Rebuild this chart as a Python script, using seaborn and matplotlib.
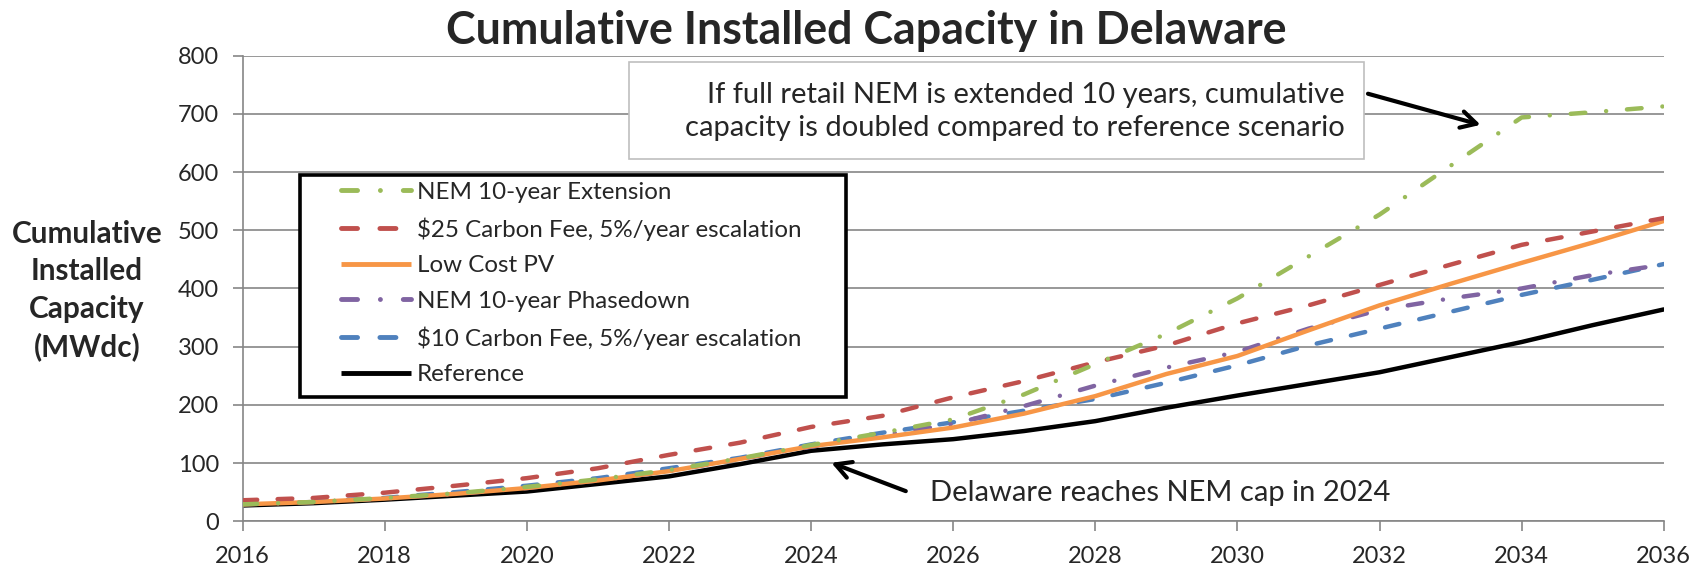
import numpy as np
import pandas as pd
import seaborn as sns
import matplotlib.pyplot as plt
from matplotlib.lines import Line2D
from matplotlib.patches import Rectangle

years = list(range(2016, 2037))

nem_ext = [29, 33, 40, 48, 59, 72, 88, 108, 131, 152, 175, 218, 270, 322, 383, 455, 527, 611, 694, 703, 713]
carbon_25 = [36, 40, 49, 61, 74, 91, 114, 135, 162, 181, 213, 241, 273, 302, 340, 371, 406, 441, 475, 498, 521]
low_cost_pv = [29, 33, 39, 47, 57, 70, 86, 107, 129, 144, 161, 185, 215, 253, 284, 328, 371, 408, 444, 479, 516]
nem_phase = [29, 33, 39, 47, 57, 70, 86, 107, 128, 148, 167, 198, 233, 264, 291, 331, 363, 383, 400, 423, 441]
carbon_10 = [30, 34, 40, 50, 61, 74, 91, 109, 132, 152, 170, 190, 210, 238, 268, 302, 331, 360, 389, 415, 442]
reference = [27, 31, 37, 44, 51, 64, 77, 98, 121, 132, 141, 155, 172, 195, 216, 236, 256, 282, 308, 337, 364]

labels = ["NEM 10-year Extension",
          "$25 Carbon Fee, 5%/year escalation",
          "Low Cost PV",
          "NEM 10-year Phasedown",
          "$10 Carbon Fee, 5%/year escalation",
          "Reference"]

df = pd.DataFrame({"year": years,
                   labels[0]: nem_ext,
                   labels[1]: carbon_25,
                   labels[2]: low_cost_pv,
                   labels[3]: nem_phase,
                   labels[4]: carbon_10,
                   labels[5]: reference})
long = df.melt(id_vars="year", var_name="scenario", value_name="mw")

colors = {labels[0]: "#9BBB59", labels[1]: "#C0504D", labels[2]: "#F79646",
          labels[3]: "#8064A2", labels[4]: "#4F81BD", labels[5]: "#000000"}
dashdot = (0, (3.3, 4.7, 0.01, 4.7))
dashed = (0, (3.3, 4.6))
styles = {labels[0]: dashdot, labels[1]: dashed, labels[2]: "-",
          labels[3]: dashdot, labels[4]: dashed, labels[5]: "-"}

sns.set_style("white")
plt.rcParams["font.family"] = ["Lato", "DejaVu Sans"]

fig = plt.figure(figsize=(16.96, 5.69), dpi=100)
ax = fig.add_axes([0.143, 0.084, 0.838, 0.818])

handles = {}
for i, lab in enumerate(labels[::-1]):
    sub = long[long.scenario == lab]
    sns.lineplot(data=sub, x="year", y="mw", ax=ax, color=colors[lab], lw=3.2,
                 legend=False, zorder=2 + i)
    ln = ax.lines[-1]
    ln.set_linestyle(styles[lab])
    ln.set_dash_capstyle("round")
    ln.set_solid_capstyle("round")
    handles[lab] = Line2D([0], [0], color=colors[lab], lw=3.5, linestyle=styles[lab],
                          dash_capstyle="round", solid_capstyle="butt")

ax.set_xlim(2016, 2036)
ax.set_ylim(0, 800)
ax.set_xticks(range(2016, 2037, 2))
ax.set_yticks(range(0, 801, 100))
ax.set_xlabel("")
ax.set_ylabel("")
ax.grid(axis="y", color="#868686", lw=1.2)
ax.set_axisbelow(True)
for s in ["top", "right"]:
    ax.spines[s].set_visible(False)
for s in ["left", "bottom"]:
    ax.spines[s].set_color("#868686")
    ax.spines[s].set_linewidth(1.2)
ax.tick_params(axis="both", labelsize=17, color="#868686", width=1.2, length=7,
               direction="out", bottom=True, left=True)
ax.tick_params(axis="x", pad=11)
ax.tick_params(axis="y", pad=10)

# legend: fixed-size Excel style frame, entries placed inside it
ax.add_patch(Rectangle((0.0401, 0.2667), 0.3845, 0.4774, transform=ax.transAxes,
                       fc="white", ec="black", lw=2.6, zorder=19, clip_on=False))
leg = ax.legend([handles[l] for l in labels], labels, loc="upper left",
                bbox_to_anchor=(0.069, 0.729), fontsize=17.4, frameon=False,
                handlelength=2.93, handletextpad=0.23, labelspacing=0.6,
                borderpad=0, borderaxespad=0)
leg.set_zorder(20)

ax.add_patch(Rectangle((0.2718, 0.7785), 0.5176, 0.2086, transform=ax.transAxes,
                       fc="white", ec="#BFBFBF", lw=1.2, zorder=19, clip_on=False))
ax.text(0.7754, 0.8806, "If full retail NEM is extended 10 years, cumulative\n"
        "capacity is doubled compared to reference scenario",
        transform=ax.transAxes, ha="right", va="center", multialignment="right",
        fontsize=21, linespacing=1.35, zorder=20)
arrow = "->,head_length=1.1,head_width=0.6"
ax.annotate("", xy=(2033.46, 680), xytext=(2031.8, 736),
            arrowprops=dict(arrowstyle=arrow, color="black", lw=3), zorder=21)

ax.text(2025.68, 48, "Delaware reaches NEM cap in 2024", ha="left", va="center",
        fontsize=21, zorder=20)
ax.annotate("", xy=(2024.25, 102), xytext=(2025.37, 50),
            arrowprops=dict(arrowstyle=arrow, color="black", lw=3), zorder=21)

fig.text(866 / 1696, 1 - 31 / 569, "Cumulative Installed Capacity in Delaware",
         ha="center", va="center", fontsize=32.2, fontweight="bold")
fig.text(87 / 1696, 1 - 290.5 / 569, "Cumulative\nInstalled\nCapacity\n(MWdc)",
         ha="center", va="center", fontsize=21.4, fontweight="bold", linespacing=1.41)

fig.savefig("out.png", dpi=100)
